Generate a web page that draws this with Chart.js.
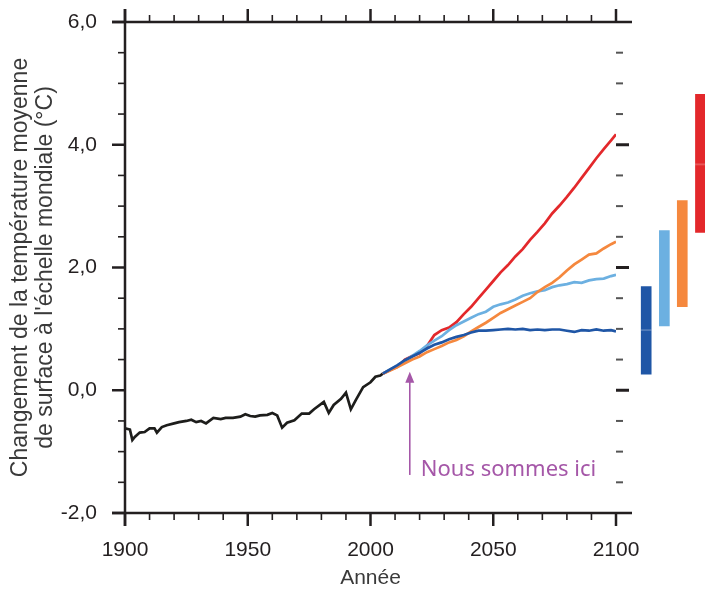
<!DOCTYPE html>
<html lang="fr">
<head>
    <meta charset="UTF-8">
    <title>Changement de la température moyenne de surface</title>
    <script src="https://cdn.jsdelivr.net/npm/chart.js"></script>
    <style>
        html, body {
            margin: 0;
            padding: 0;
            background: #ffffff;
        }
        .chart-box {
            width: 705px;
            height: 591px;
        }
    </style>
</head>
<body>
    <div class="chart-box">
        <canvas id="tempChart"></canvas>
    </div>

    <script>
        // Observed global mean surface temperature change (°C)
        const histYears = [1900, 1902, 1903, 1904, 1906, 1908, 1910, 1912, 1913, 1915, 1917, 1920, 1922, 1925,
            1927, 1929, 1931, 1933, 1936, 1939, 1941, 1944, 1947, 1949, 1951, 1953, 1955, 1958, 1960, 1962,
            1964, 1966, 1969, 1972, 1975, 1977, 1981, 1983, 1985, 1988, 1990, 1992, 1994, 1997, 2000, 2002,
            2004, 2005];
        const histTemp = [-0.62, -0.64, -0.81, -0.76, -0.69, -0.68, -0.62, -0.62, -0.69, -0.60, -0.57, -0.54, -0.52, -0.50,
            -0.48, -0.52, -0.50, -0.54, -0.45, -0.47, -0.45, -0.45, -0.43, -0.39, -0.42, -0.43, -0.41, -0.40, -0.37, -0.41,
            -0.61, -0.53, -0.49, -0.38, -0.38, -0.31, -0.19, -0.37, -0.24, -0.14, -0.04, -0.31, -0.16, 0.05, 0.13, 0.22,
            0.24, 0.27];

        // Projections 2005-2100, one array per scenario
        const projYears = [2005, 2008, 2011, 2014, 2017, 2020, 2023, 2026, 2029, 2032, 2035, 2038, 2041, 2044, 2047,
            2050, 2053, 2056, 2059, 2062, 2065, 2068, 2071, 2074, 2077, 2080, 2083, 2086, 2089, 2092, 2095, 2098, 2100];
        const rcp26 = [0.27, 0.34, 0.41, 0.49, 0.55, 0.61, 0.68, 0.74, 0.78, 0.83, 0.87, 0.90, 0.94, 0.97, 0.97,
            0.98, 0.99, 1.00, 0.99, 1.00, 0.98, 0.99, 0.98, 0.99, 0.99, 0.97, 0.95, 0.98, 0.97, 0.99, 0.97, 0.98, 0.96];
        const rcp45 = [0.27, 0.34, 0.40, 0.48, 0.56, 0.64, 0.73, 0.81, 0.88, 0.98, 1.06, 1.12, 1.18, 1.24, 1.28,
            1.36, 1.40, 1.43, 1.48, 1.54, 1.58, 1.61, 1.63, 1.68, 1.71, 1.73, 1.76, 1.75, 1.79, 1.81, 1.82, 1.86, 1.88];
        const rcp60 = [0.27, 0.32, 0.38, 0.44, 0.50, 0.55, 0.62, 0.67, 0.72, 0.78, 0.82, 0.88, 0.96, 1.03, 1.10,
            1.18, 1.26, 1.32, 1.38, 1.44, 1.50, 1.60, 1.68, 1.75, 1.84, 1.95, 2.05, 2.13, 2.21, 2.23, 2.31, 2.38, 2.42];
        const rcp85 = [0.27, 0.33, 0.38, 0.50, 0.56, 0.60, 0.72, 0.90, 0.98, 1.02, 1.11, 1.24, 1.36, 1.50, 1.64,
            1.78, 1.92, 2.04, 2.18, 2.30, 2.45, 2.58, 2.72, 2.88, 3.01, 3.15, 3.30, 3.46, 3.62, 3.78, 3.93, 4.07, 4.17];

        // 2081-2100 likely ranges and means, shown as bars right of the plot
        const rangeSlots = [2112.3, 2119.7, 2127.0, 2134.4];
        const rangeLow = [0.26, 1.05, 1.36, 2.57];
        const rangeHigh = [1.69, 2.60, 3.09, 4.82];
        const rangeMean = [0.98, null, null, 3.68];

        // y tick marks every 0.5, labelled every 2
        const yMin = -2, yMax = 6, yStep = 0.5, yLabelEvery = 2;
        const xMin = 1900, xMax = 2100, xStep = 10, xLabelEvery = 50;

        // "Nous sommes ici" marker
        const nowYear = 2016;
        const nowArrow = [-1.38, 0.30];
        const nowLabel = 'Nous sommes ici';

        const colors = {
            hist: '#1d1d1b',
            rcp26: '#1f56a6',
            rcp45: '#6cb0e1',
            rcp60: '#f5883e',
            rcp85: '#e3282b',
            axis: '#231f20',
            here: '#a557a8'
        };

        const pts = (xs, ys) => xs.map((x, i) => ({ x: x, y: ys[i] }));

        function lineSet(label, xs, ys, color) {
            return {
                type: 'line',
                label: label,
                data: pts(xs, ys),
                borderColor: color,
                borderWidth: 2.7,
                pointRadius: 0,
                tension: 0,
                fill: false
            };
        }

        // axis lines and tick marks (outward ticks, no right-hand spine)
        const axisFrame = {
            id: 'axisFrame',
            afterDatasetsDraw(chart) {
                const { ctx, chartArea: a, scales: { x, y } } = chart;
                const seg = (x1, y1, x2, y2) => {
                    ctx.beginPath();
                    ctx.moveTo(x1, y1);
                    ctx.lineTo(x2, y2);
                    ctx.stroke();
                };
                ctx.save();
                ctx.strokeStyle = colors.axis;
                ctx.lineWidth = 2.5;
                seg(a.left - 13, a.top, a.right + 16, a.top);
                seg(a.left - 13, a.bottom, a.right + 16, a.bottom);
                seg(a.left, a.top - 13, a.left, a.bottom + 13);

                x.ticks.forEach(t => {
                    const px = x.getPixelForValue(t.value);
                    const major = t.value % xLabelEvery === 0;
                    const len = major ? 13 : 7;
                    ctx.lineWidth = major ? 2.5 : 1.6;
                    seg(px, a.top, px, a.top - len);
                    seg(px, a.bottom, px, a.bottom + len);
                });

                y.ticks.forEach(t => {
                    const py = y.getPixelForValue(t.value);
                    const major = t.value % yLabelEvery === 0;
                    ctx.strokeStyle = colors.axis;
                    ctx.lineWidth = major ? 2.5 : 1.6;
                    seg(a.left - (major ? 13 : 7), py, a.left, py);
                    if (t.value === yMin || t.value === yMax) return;
                    if (major) {
                        ctx.lineWidth = 3;
                        seg(a.right, py, a.right + 13, py);
                    } else {
                        ctx.strokeStyle = '#555555';
                        ctx.lineWidth = 2;
                        seg(a.right, py, a.right + 7, py);
                    }
                });
                ctx.restore();
            }
        };

        // arrow and caption marking the present day
        const hereMarker = {
            id: 'hereMarker',
            afterDatasetsDraw(chart) {
                const { ctx, scales: { x, y } } = chart;
                const px = x.getPixelForValue(nowYear);
                const yBase = y.getPixelForValue(nowArrow[0]);
                const yTip = y.getPixelForValue(nowArrow[1]);
                ctx.save();
                ctx.strokeStyle = colors.here;
                ctx.fillStyle = colors.here;
                ctx.lineWidth = 1.6;
                ctx.beginPath();
                ctx.moveTo(px, yBase);
                ctx.lineTo(px, yTip + 8);
                ctx.stroke();
                ctx.beginPath();
                ctx.moveTo(px, yTip);
                ctx.lineTo(px - 4.5, yTip + 11);
                ctx.lineTo(px + 4.5, yTip + 11);
                ctx.closePath();
                ctx.fill();
                ctx.font = '22px "Noto Sans"';
                ctx.textBaseline = 'alphabetic';
                ctx.textAlign = 'left';
                ctx.fillText(nowLabel, px + 11, yBase + 1);
                ctx.restore();
            }
        };

        const tickFont = { family: '"Liberation Sans", Arial, sans-serif', size: 21 };

        new Chart(document.getElementById('tempChart'), {
            type: 'line',
            data: {
                datasets: [
                    lineSet('RCP2.6', projYears, rcp26, colors.rcp26),
                    lineSet('RCP6.0', projYears, rcp60, colors.rcp60),
                    lineSet('RCP4.5', projYears, rcp45, colors.rcp45),
                    lineSet('RCP8.5', projYears, rcp85, colors.rcp85),
                    lineSet('Observé', histYears, histTemp, colors.hist),
                    {
                        type: 'bar',
                        label: 'Moyenne 2081-2100',
                        data: rangeSlots.map((x, i) => ({ x: x, y: rangeMean[i] === null ? null : [rangeMean[i] - 0.01, rangeMean[i] + 0.01] })),
                        backgroundColor: 'rgba(255, 255, 255, 0.22)',
                        barThickness: 10,
                        grouped: false,
                        clip: false
                    },
                    {
                        type: 'bar',
                        label: 'Fourchette 2081-2100',
                        data: rangeSlots.map((x, i) => ({ x: x, y: [rangeLow[i], rangeHigh[i]] })),
                        backgroundColor: [colors.rcp26, colors.rcp45, colors.rcp60, colors.rcp85],
                        barThickness: 10,
                        grouped: false,
                        clip: false
                    }
                ]
            },
            options: {
                responsive: true,
                maintainAspectRatio: false,
                animation: false,
                layout: {
                    padding: { top: 22, right: 89, left: 0, bottom: 0 }
                },
                plugins: {
                    legend: { display: false },
                    tooltip: { enabled: false }
                },
                scales: {
                    x: {
                        type: 'linear',
                        min: xMin,
                        max: xMax,
                        offset: false,
                        grid: { display: false, drawTicks: false },
                        border: { display: false },
                        ticks: {
                            stepSize: xStep,
                            autoSkip: false,
                            maxRotation: 0,
                            padding: 25,
                            color: colors.axis,
                            font: tickFont,
                            callback: v => (v % xLabelEvery === 0 ? String(v) : '')
                        },
                        title: {
                            display: true,
                            text: 'Année',
                            color: '#3a3a3a',
                            font: { family: '"Liberation Sans", Arial, sans-serif', size: 21 },
                            padding: { top: 0, bottom: 0 }
                        },
                        afterFit: s => { s.height = 78; }
                    },
                    y: {
                        type: 'linear',
                        min: yMin,
                        max: yMax,
                        grid: { display: false, drawTicks: false },
                        border: { display: false },
                        ticks: {
                            stepSize: yStep,
                            autoSkip: false,
                            padding: 28,
                            color: colors.axis,
                            font: tickFont,
                            callback: v => (v % yLabelEvery === 0 ? v.toFixed(1).replace('.', ',') : '')
                        },
                        title: {
                            display: true,
                            text: ['Changement de la température moyenne', 'de surface à l\'échelle mondiale (°C)'],
                            color: '#3a3a3a',
                            font: { family: '"Liberation Sans", Arial, sans-serif', size: 23, lineHeight: 1.05 },
                            padding: { top: 9, bottom: 0 }
                        },
                        // fixed gutter; tick labels may overhang the plot top
                        afterFit: s => {
                            s.width = 125;
                            s.paddingTop = 0;
                            s.paddingBottom = 0;
                        }
                    }
                }
            },
            plugins: [axisFrame, hereMarker]
        });
    </script>
</body>
</html>
